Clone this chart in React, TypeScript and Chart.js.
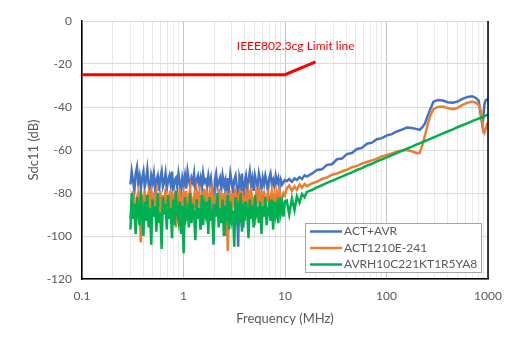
import React, { useEffect, useRef } from "react";
import { Chart, registerables } from "chart.js";

Chart.register(...registerables);

// Frequency points (MHz)
const FREQ_MHZ = [
  0.300, 0.309, 0.318, 0.328, 0.338, 0.348, 0.358, 0.369, 0.380, 0.391,
  0.403, 0.415, 0.427, 0.440, 0.453, 0.467, 0.481, 0.495, 0.510, 0.525,
  0.541, 0.557, 0.574, 0.591, 0.609, 0.627, 0.646, 0.665, 0.685, 0.705,
  0.726, 0.748, 0.770, 0.793, 0.817, 0.841, 0.866, 0.892, 0.919, 0.946,
  0.974, 1.003, 1.033, 1.064, 1.096, 1.129, 1.163, 1.198, 1.234, 1.271,
  1.309, 1.348, 1.388, 1.429, 1.472, 1.516, 1.561, 1.608, 1.656, 1.705,
  1.756, 1.808, 1.862, 1.918, 1.975, 2.034, 2.095, 2.158, 2.222, 2.288,
  2.356, 2.426, 2.499, 2.574, 2.651, 2.730, 2.811, 2.895, 2.981, 3.070,
  3.162, 3.256, 3.353, 3.453, 3.556, 3.662, 3.771, 3.884, 4.000, 4.119,
  4.242, 4.369, 4.499, 4.633, 4.771, 4.914, 5.060, 5.211, 5.367, 5.527,
  5.692, 5.861, 6.036, 6.216, 6.402, 6.593, 6.789, 6.992, 7.200, 7.415,
  7.636, 7.864, 8.098, 8.340, 8.589, 8.845, 9.109, 9.380, 9.660, 9.948,
  10.4, 11.0, 11.7, 12.4, 13.1, 13.9, 14.7, 15.6, 16.4, 18.4,
  20.6, 23.1, 25.9, 29.0, 32.5, 36.4, 40.7, 45.6, 51.1, 57.2,
  64.1, 71.8, 80.4, 90.0, 101, 113, 126, 142, 159, 178,
  199, 212, 225, 240, 255, 270, 290, 320, 360, 400,
  450, 500, 560, 630, 700, 760, 810, 850, 880, 900,
  920, 950, 980, 1000,
];

// ACT+AVR (dB)
const ACT_AVR = [
  -76, -70, -74, -79, -71, -68, -75, -72, -78, -73,
  -70, -77, -74, -69, -76, -80, -72, -75, -71, -78,
  -74, -72, -79, -73, -70, -77, -75, -71, -78, -74,
  -72, -76, -70, -79, -74, -73, -77, -71, -75, -80,
  -73, -76, -72, -78, -70, -74, -77, -73, -75, -71,
  -79, -74, -72, -76, -73, -78, -71, -75, -74, -77,
  -72, -76, -73, -79, -104, -74, -71, -77, -75, -73,
  -78, -72, -76, -74, -100, -73, -77, -71, -75, -79,
  -74, -72, -77, -105, -73, -76, -71, -96, -75, -72,
  -78, -74, -70, -76, -73, -79, -72, -75, -77, -71,
  -74, -78, -73, -76, -72, -75, -79, -73, -71, -76,
  -74, -77, -72, -75, -73, -78, -74, -76, -75, -74,
  -74.5, -73.5, -74.8, -73.2, -73.9, -72.6, -73.5, -71.8, -72.4, -71.0,
  -69.3, -69.0, -66.9, -66.6, -64.3, -64.0, -61.9, -61.4, -59.5, -59.0,
  -57.1, -56.6, -55.0, -54.5, -53.2, -52.6, -51.4, -50.5, -49.6, -49.8,
  -50.3, -50.6, -49.5, -47.5, -44.0, -41.0, -37.5, -36.8, -37.0, -37.8,
  -38.0, -37.5, -36.2, -35.3, -35.0, -35.8, -37.0, -44.0, -48.5, -45.0,
  -39.0, -36.8, -36.5, -37.0,
];

// ACT1210E-241 (dB)
const ACT1210E_241 = [
  -92, -84, -79, -88, -98, -82, -80, -86, -103, -81,
  -85, -79, -89, -83, -80, -87, -78, -91, -82, -84,
  -80, -88, -83, -79, -94, -81, -86, -78, -90, -83,
  -81, -87, -79, -85, -82, -96, -80, -84, -78, -89,
  -83, -80, -86, -79, -91, -82, -78, -88, -84, -81,
  -87, -79, -83, -80, -97, -82, -85, -78, -89, -81,
  -84, -80, -88, -79, -83, -86, -81, -90, -78, -85,
  -82, -93, -80, -84, -79, -107, -83, -81, -88, -80,
  -85, -78, -90, -82, -80, -87, -79, -84, -83, -81,
  -89, -80, -84, -78, -86, -82, -95, -80, -83, -79,
  -87, -81, -84, -79, -88, -82, -80, -85, -83, -79,
  -84, -81, -86, -80, -83, -79, -85, -82, -80, -81,
  -78.0, -76.5, -79.0, -77.0, -78.5, -76.0, -77.5, -75.8, -76.8, -75.5,
  -74.8, -73.5, -72.8, -71.5, -70.9, -70.0, -69.2, -68.0, -67.4, -66.3,
  -65.6, -64.8, -64.0, -63.0, -62.3, -61.6, -60.8, -60.2, -60.0, -60.6,
  -61.5, -61.3, -58.0, -53.0, -48.0, -44.0, -41.0, -40.0, -39.8, -40.5,
  -41.0, -40.5, -39.0, -38.0, -37.5, -38.0, -39.0, -42.0, -47.0, -51.0,
  -52.0, -50.0, -48.0, -47.5,
];

// AVRH10C221KT1R5YA8 (dB)
const AVRH10C221KT1R5YA8 = [
  -97, -80, -92, -85, -99, -82, -88, -95, -79, -90,
  -100, -84, -93, -81, -96, -87, -104, -83, -91, -86,
  -98, -80, -94, -89, -106, -82, -90, -85, -97, -81,
  -92, -87, -101, -83, -95, -79, -89, -93, -84, -99,
  -86, -108, -82, -91, -88, -96, -80, -94, -85, -90,
  -102, -83, -92, -87, -97, -81, -95, -86, -90, -84,
  -99, -82, -93, -88, -103, -85, -91, -80, -96, -87,
  -94, -83, -100, -86, -90, -81, -97, -84, -92, -88,
  -105, -82, -95, -87, -91, -80, -98, -85, -93, -84,
  -89, -101, -83, -92, -86, -96, -81, -90, -88, -94,
  -84, -99, -86, -91, -82, -95, -88, -85, -93, -83,
  -97, -84, -90, -86, -94, -82, -89, -85, -91, -84,
  -83.5, -90.0, -82.5, -88.0, -81.5, -84.5, -80.5, -82.0, -79.5, -78.6,
  -77.4, -76.4, -75.3, -74.4, -73.3, -72.4, -71.3, -70.4, -69.3, -68.4,
  -67.3, -66.4, -65.3, -64.4, -63.4, -62.4, -61.4, -60.4, -59.4, -58.4,
  -57.4, -56.9, -56.4, -55.8, -55.3, -54.8, -54.2, -53.3, -52.3, -51.4,
  -50.4, -49.4, -48.5, -47.5, -46.6, -45.9, -45.4, -45.0, -44.7, -44.5,
  -44.3, -44.0, -43.7, -43.5,
];

// IEEE802.3cg limit line
const LIMIT_FREQ = [0.1, 10, 20];
const LIMIT_DB = [-25, -25, -19];

const SERIES_NAMES = ["ACT+AVR", "ACT1210E-241", "AVRH10C221KT1R5YA8"];
const SERIES_COLORS = ["#4472C4", "#ED7D31", "#00B050"];
const LIMIT_LABEL = "IEEE802.3cg Limit line";
const X_DECADES = [0.1, 1, 10, 100, 1000];
const X_TITLE = "Frequency (MHz)";
const Y_TITLE = "Sdc11 (dB)";

const FONT = "Lato, 'Open Sans', sans-serif";
const TEXT_GREY = "#595959";

function buildXTicks() {
  const ticks: number[] = [];
  for (let i = 0; i < X_DECADES.length - 1; i++) {
    for (let m = 1; m <= 9; m++) {
      ticks.push(Number((X_DECADES[i] * m).toPrecision(3)));
    }
  }
  ticks.push(X_DECADES[X_DECADES.length - 1]);
  return ticks;
}

const overlayPlugin = {
  id: "overlay",
  afterDatasetsDraw(chart: any) {
    const { ctx, chartArea, scales } = chart;
    ctx.save();
    // right border
    ctx.strokeStyle = "#000";
    ctx.lineWidth = 1.5;
    ctx.beginPath();
    ctx.moveTo(chartArea.right, chartArea.top);
    ctx.lineTo(chartArea.right, chartArea.bottom);
    ctx.stroke();

    // limit label
    ctx.fillStyle = "#FF0000";
    ctx.font = `12px ${FONT}`;
    ctx.textBaseline = "middle";
    ctx.textAlign = "left";
    ctx.fillText(LIMIT_LABEL, scales.x.getPixelForValue(3.35), scales.y.getPixelForValue(-11.7));

    // legend
    const bx = chartArea.right - 183;
    const by = chartArea.bottom - 56;
    const bw = 176;
    const bh = 49;
    ctx.fillStyle = "#fff";
    ctx.fillRect(bx, by, bw, bh);
    ctx.strokeStyle = "#a6a6a6";
    ctx.lineWidth = 1;
    ctx.strokeRect(bx + 0.5, by + 0.5, bw, bh);
    SERIES_NAMES.forEach((name, i) => {
      const yy = by + 8.5 + i * 16.5;
      ctx.strokeStyle = SERIES_COLORS[i];
      ctx.lineWidth = 2.5;
      ctx.beginPath();
      ctx.moveTo(bx + 5, yy);
      ctx.lineTo(bx + 37, yy);
      ctx.stroke();
      ctx.fillStyle = TEXT_GREY;
      ctx.font = `12px ${FONT}`;
      ctx.textAlign = "left";
      ctx.textBaseline = "middle";
      ctx.fillText(name, bx + 39, yy);
    });
    ctx.restore();
  },
};

export default function App() {
  const canvasRef = useRef<HTMLCanvasElement | null>(null);

  useEffect(() => {
    if (!canvasRef.current) return;
    const xTicks = buildXTicks();
    const seriesValues = [ACT_AVR, ACT1210E_241, AVRH10C221KT1R5YA8];
    const datasets: any[] = seriesValues.map((vals, i) => ({
      label: SERIES_NAMES[i],
      data: FREQ_MHZ.map((f, j) => ({ x: f, y: vals[j] })),
      borderColor: SERIES_COLORS[i],
      backgroundColor: SERIES_COLORS[i],
      borderWidth: 2.5,
      pointRadius: 0,
      tension: 0,
      fill: false,
      order: 3 - i,
    }));
    datasets.push({
      label: "limit",
      data: LIMIT_FREQ.map((f, j) => ({ x: f, y: LIMIT_DB[j] })),
      borderColor: "#FF0000",
      backgroundColor: "#FF0000",
      borderWidth: 3,
      pointRadius: 0,
      tension: 0,
      fill: false,
      order: 0,
    });

    const chart = new Chart(canvasRef.current, {
      type: "line",
      data: { datasets },
      options: {
        animation: false,
        responsive: false,
        maintainAspectRatio: false,
        layout: { padding: { left: 0, top: 21, right: 36, bottom: 0 } },
        plugins: {
          legend: { display: false },
          tooltip: { enabled: false },
        },
        scales: {
          x: {
            type: "logarithmic",
            min: 0.1,
            max: 1000,
            afterBuildTicks: (scale: any) => {
              scale.ticks = xTicks.map((v) => ({ value: v }));
            },
            afterFit: (scale: any) => {
              scale.height = 77;
            },
            ticks: {
              autoSkip: false,
              maxRotation: 0,
              padding: 10,
              color: TEXT_GREY,
              font: { family: FONT, size: 12 },
              callback: (v: any) => (X_DECADES.includes(Number(v)) ? String(v) : ""),
            },
            grid: {
              drawTicks: false,
              color: (c: any) =>
                c.tick && X_DECADES.includes(Number(c.tick.value)) ? "#c4c4c4" : "#e8e8e8",
              lineWidth: 1,
            },
            border: { color: "#000", width: 1.5 },
            title: {
              display: true,
              text: X_TITLE,
              color: TEXT_GREY,
              font: { family: FONT, size: 13 },
              padding: { top: 0, bottom: 29 },
            },
          },
          y: {
            type: "linear",
            min: -120,
            max: 0,
            afterFit: (scale: any) => {
              scale.width = 82;
            },
            ticks: {
              stepSize: 20,
              padding: 10,
              color: TEXT_GREY,
              font: { family: FONT, size: 12 },
            },
            grid: { drawTicks: false, color: "#d9d9d9", lineWidth: 1 },
            border: { color: "#000", width: 1.5 },
            title: {
              display: true,
              text: Y_TITLE,
              color: TEXT_GREY,
              font: { family: FONT, size: 13 },
              padding: { top: 26, bottom: 0 },
            },
          },
        },
      },
      plugins: [overlayPlugin],
    });
    return () => chart.destroy();
  }, []);

  return (
    <div style={{ position: "absolute", left: 0, top: 0, width: 524, height: 356, background: "#fff" }}>
      <canvas ref={canvasRef} width={524} height={356} />
    </div>
  );
}
